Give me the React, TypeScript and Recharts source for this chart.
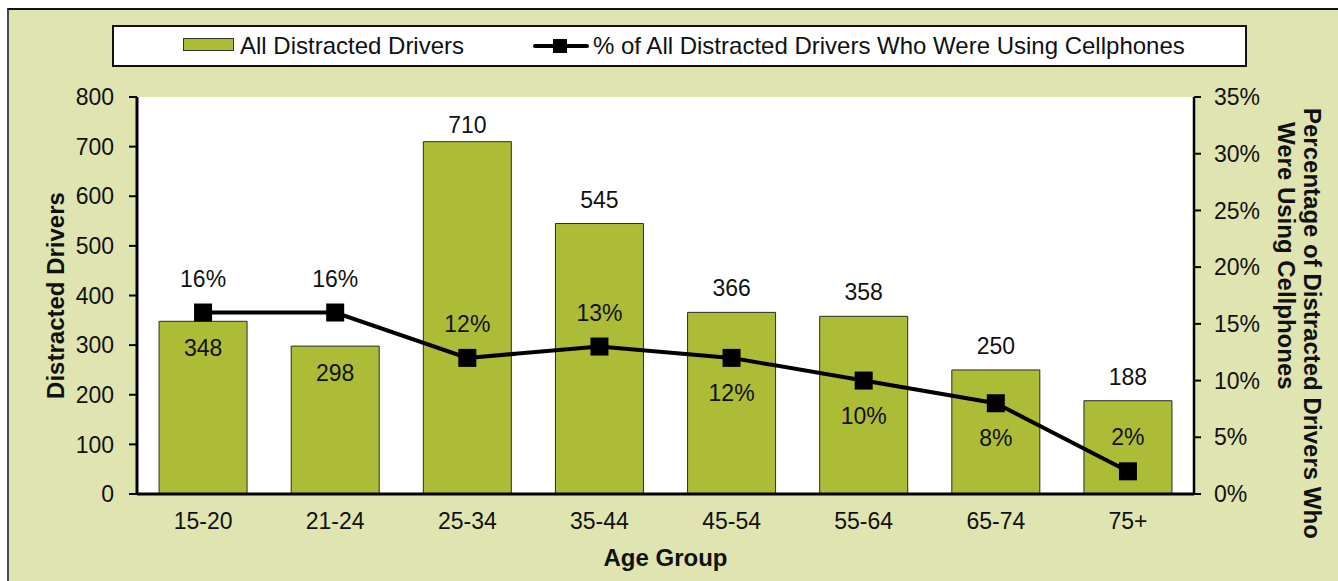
import React from 'react';
import {
  ComposedChart,
  Bar,
  Line,
  XAxis,
  YAxis,
  CartesianGrid,
  Legend,
  Label,
} from 'recharts';

// ---------- data ----------
const ageGroups = ['15-20', '21-24', '25-34', '35-44', '45-54', '55-64', '65-74', '75+'];
const distractedDrivers = [348, 298, 710, 545, 366, 358, 250, 188];
const cellphonePct = [16, 16, 12, 13, 12, 10, 8, 2];
const leftTicks = [0, 100, 200, 300, 400, 500, 600, 700, 800];
const rightTicks = [0, 5, 10, 15, 20, 25, 30, 35];

const barSeriesName = 'All Distracted Drivers';
const lineSeriesName = '% of All Distracted Drivers Who Were Using Cellphones';
const leftTitle = 'Distracted Drivers';
const rightTitleLines = ['Percentage of Distracted Drivers Who', 'Were Using Cellphones'];
const xTitle = 'Age Group';

// label placement (style only)
const barLabelPlacement = ['inside', 'inside', 'above', 'above', 'above', 'above', 'above', 'above'];
const lineLabelPlacement = ['above', 'above', 'above', 'above', 'below', 'below', 'below', 'above'];

const data = ageGroups.map((age, i) => ({
  age,
  drivers: distractedDrivers[i],
  pct: cellphonePct[i],
}));

// ---------- style ----------
const FONT = '"Liberation Sans", Arial, sans-serif';
const BG = '#dfe4b0';
const BAR = '#adbc37';
const FS = 23;
const FS_BIG = 24;
const PLOT_TOP = 87;

const renderBarLabel = (p: any) => {
  const { x, y, width, value, index } = p;
  const inside = barLabelPlacement[index] === 'inside';
  const ly = inside ? y + 27 : Math.max(y - 24, PLOT_TOP + 28);
  return (
    <text
      x={x + width / 2}
      y={ly}
      textAnchor="middle"
      dominantBaseline="central"
      fontSize={FS}
      fontFamily={FONT}
      fill="#111"
    >
      {value}
    </text>
  );
};

const renderLineLabel = (p: any) => {
  const { x, y, value, index } = p;
  const above = lineLabelPlacement[index] === 'above';
  return (
    <text
      x={x}
      y={above ? y - 34 : y + 35}
      textAnchor="middle"
      dominantBaseline="central"
      fontSize={FS}
      fontFamily={FONT}
      fill="#111"
    >
      {value}%
    </text>
  );
};

const renderSquare = (p: any) => {
  const { cx, cy, index } = p;
  return <rect key={`sq-${index}`} x={cx - 9} y={cy - 9} width={18} height={18} fill="#000" />;
};

const renderLegend = () => (
  <div
    style={{
      position: 'relative',
      width: 1135,
      height: 42,
      boxSizing: 'border-box',
      border: '2px solid #111',
      background: '#fff',
      fontFamily: FONT,
      fontSize: FS_BIG,
      color: '#111',
    }}
  >
    <div
      style={{
        position: 'absolute',
        left: 69,
        top: 11,
        width: 51,
        height: 13,
        boxSizing: 'border-box',
        background: BAR,
        border: '1px solid #333',
      }}
    />
    <div style={{ position: 'absolute', left: 126, top: 0, height: 38, lineHeight: '38px', whiteSpace: 'nowrap' }}>
      {barSeriesName}
    </div>
    <svg style={{ position: 'absolute', left: 419, top: 8 }} width={56} height={22}>
      <line x1={2} y1={11} x2={54} y2={11} stroke="#000" strokeWidth={4} strokeLinecap="round" />
      <rect x={20} y={4} width={14} height={14} fill="#000" />
    </svg>
    <div style={{ position: 'absolute', left: 479, top: 0, height: 38, lineHeight: '38px', whiteSpace: 'nowrap' }}>
      {lineSeriesName}
    </div>
  </div>
);

const LeftTitle = (p: any) => {
  const vb = p.viewBox;
  const cx = vb.x - 2;
  const cy = vb.y + vb.height / 2;
  return (
    <text
      x={cx}
      y={cy}
      transform={`rotate(-90, ${cx}, ${cy})`}
      textAnchor="middle"
      dominantBaseline="central"
      fontSize={FS_BIG}
      fontWeight="bold"
      fontFamily={FONT}
      fill="#111"
    >
      {leftTitle}
    </text>
  );
};

const RightTitle = (p: any) => {
  const vb = p.viewBox;
  const lines = [
    { x: vb.x + 118, y: vb.y + 11 },
    { x: vb.x + 92, y: vb.y + 25 },
  ];
  return (
    <g>
      {rightTitleLines.map((t, i) => (
        <text
          key={i}
          x={lines[i].x}
          y={lines[i].y}
          transform={`rotate(90, ${lines[i].x}, ${lines[i].y})`}
          textAnchor="start"
          dominantBaseline="central"
          fontSize={FS_BIG}
          fontWeight="bold"
          fontFamily={FONT}
          fill="#111"
        >
          {t}
        </text>
      ))}
    </g>
  );
};

const XTitle = (p: any) => {
  const vb = p.viewBox;
  return (
    <text
      x={vb.x + vb.width / 2}
      y={vb.y + 63}
      textAnchor="middle"
      dominantBaseline="central"
      fontSize={FS_BIG}
      fontWeight="bold"
      fontFamily={FONT}
      fill="#111"
    >
      {xTitle}
    </text>
  );
};

export default function App() {
  return (
    <div
      style={{
        position: 'fixed',
        left: 7,
        top: 8,
        width: 1331,
        height: 573,
        background: BG,
        borderTop: '2px solid #111',
        borderLeft: '2px solid #4a4a4a',
        overflow: 'hidden',
        fontFamily: FONT,
      }}
    >
      <ComposedChart
        width={1329}
        height={571}
        data={data}
        margin={{ top: 87, right: 64, bottom: 47, left: 48 }}
        barCategoryGap="16.7%"
      >
        <CartesianGrid yAxisId="left" horizontal={false} vertical={false} fill="#fff" />
        <XAxis
          dataKey="age"
          height={40}
          tickLine={false}
          tickSize={6}
          tickMargin={13}
          axisLine={{ stroke: '#000', strokeWidth: 3 }}
          tick={{ fontSize: FS, fill: '#111', fontFamily: FONT }}
          interval={0}
        >
          <Label content={<XTitle />} />
        </XAxis>
        <XAxis
          xAxisId="top"
          orientation="top"
          dataKey="age"
          height={0}
          tick={false}
          tickLine={false}
          axisLine={{ stroke: '#000', strokeWidth: 2.5 }}
        />
        <YAxis
          yAxisId="left"
          width={80}
          domain={[0, 800]}
          ticks={leftTicks}
          interval={0}
          tickSize={8}
          tickMargin={15}
          tickLine={{ stroke: '#000', strokeWidth: 2 }}
          axisLine={{ stroke: '#000', strokeWidth: 3 }}
          tick={{ fontSize: FS, fill: '#111', fontFamily: FONT }}
        >
          <Label content={<LeftTitle />} />
        </YAxis>
        <YAxis
          yAxisId="right"
          orientation="right"
          width={80}
          domain={[0, 35]}
          ticks={rightTicks}
          interval={0}
          tickSize={7}
          tickMargin={13}
          tickFormatter={(v: number) => `${v}%`}
          tickLine={{ stroke: '#000', strokeWidth: 2 }}
          axisLine={{ stroke: '#000', strokeWidth: 2.5 }}
          tick={{ fontSize: FS, fill: '#111', fontFamily: FONT }}
        >
          <Label content={<RightTitle />} />
        </YAxis>
        <Legend
          layout="horizontal"
          verticalAlign="middle"
          align="center"
          content={renderLegend}
          wrapperStyle={{ position: 'absolute', left: 103, top: 15, width: 1135, height: 42 }}
        />
        <Bar
          yAxisId="left"
          dataKey="drivers"
          name={barSeriesName}
          fill={BAR}
          stroke="#2b2b2b"
          strokeWidth={1}
          isAnimationActive={false}
          label={renderBarLabel}
        />
        <Line
          yAxisId="right"
          dataKey="pct"
          name={lineSeriesName}
          stroke="#000"
          strokeWidth={4}
          dot={renderSquare}
          activeDot={false}
          isAnimationActive={false}
          label={renderLineLabel}
        />
      </ComposedChart>
    </div>
  );
}
